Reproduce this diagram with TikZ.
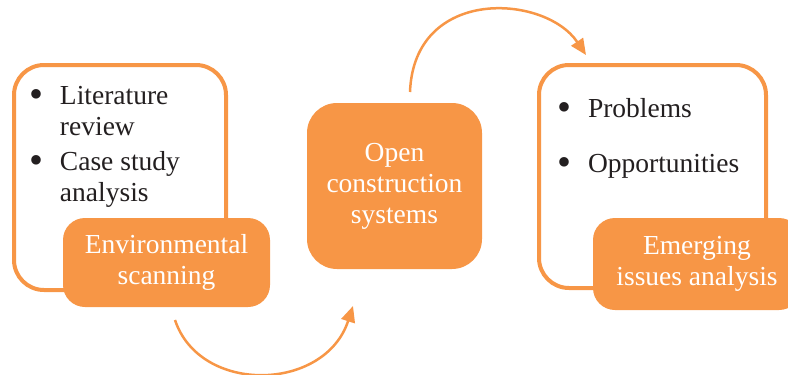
\documentclass[tikz,border=0pt]{standalone}
\usepackage{fontspec}
\usepackage{graphicx}
\setmainfont{Liberation Serif}
\usetikzlibrary{arrows.meta}
\definecolor{accent}{HTML}{F79646}
\definecolor{ink}{HTML}{231F20}
% enlarged list bullet
\newcommand{\listdot}{\raisebox{-3.5pt}{\scalebox{1.45}{•}}}
\begin{document}
\begin{tikzpicture}[x=1pt,y=-1pt,
  every node/.style={inner sep=0pt,outer sep=0pt,font=\fontsize{27.5}{31}\selectfont},
  framebox/.style={draw=accent,line width=4pt,fill=white,rounded corners=30pt},
  solidbox/.style={fill=accent,text=white,align=center,rounded corners=#1},
  solidbox/.default=22pt,
  itemlist/.style={anchor=base west,text=ink},
  flow/.style={draw=accent,line width=2.5pt,-{Triangle[length=16pt,width=14pt]}}]
\useasboundingbox (0,0) rectangle (788,375);
\begin{scope}
\clip (0,0) rectangle (788,375);

% left stage: scanning
\node[framebox,minimum width=212pt,minimum height=225pt] (scanframe) at (120,177.5) {};
\node[itemlist] (scanitems) at (30,104) {%
  \begin{tabular}[t]{@{}p{30pt}@{}l@{}}
  \listdot & Literature\\
    & review\\[4pt]
  \listdot & Case study\\
    & analysis
  \end{tabular}};
\node[solidbox,minimum width=207pt,minimum height=89pt] (scan) at (166.5,262.5)
  {Environmental\\scanning};

% middle stage
\node[solidbox=30pt,minimum width=175pt,minimum height=166pt] (open) at (394.5,186)
  {Open\\construction\\systems};

% right stage: emerging issues
\node[framebox,minimum width=227pt,minimum height=223pt] (issueframe) at (652.5,176.5) {};
\node[itemlist] (issueitems) at (557,117) {%
  \begin{tabular}[t]{@{}p{31pt}@{}l@{}}
  \listdot & Problems\\[24pt]
  \listdot & Opportunities
  \end{tabular}};
\node[solidbox,minimum width=208pt,minimum height=92pt] (issues) at (697,264)
  {Emerging\\issues analysis};

% connectors
\coordinate (scanout) at (175,320);
\coordinate (openin) at (353,306);
\coordinate (openout) at (410,92);
\coordinate (issuein) at (586,55);
\draw[flow] (scanout) .. controls (200,395) and (325,392) .. (openin);
\draw[flow] (openout) .. controls (414,-14) and (545,-6) .. (issuein);
\end{scope}
\end{tikzpicture}
\end{document}
